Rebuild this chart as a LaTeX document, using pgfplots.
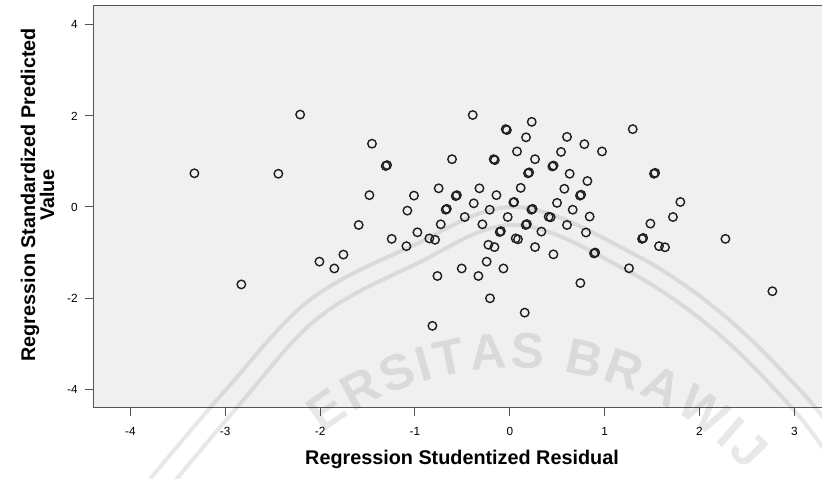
\documentclass[border=0pt]{standalone}
\usepackage{fontspec}
\setmainfont{Liberation Sans}
\usepackage{pgfplots}
\pgfplotsset{compat=1.18}
\usetikzlibrary{decorations.text}
\definecolor{bgc}{RGB}{240,240,240}
\definecolor{axc}{RGB}{85,85,85}
\definecolor{mkc}{RGB}{30,30,30}
\begin{document}
\begin{tikzpicture}[x=1pt,y=1pt]
\fill[white] (0,0) rectangle (822,479);
\begin{axis}[
  at={(93pt,71pt)}, anchor=south west,
  scale only axis, width=738pt, height=402pt,
  xmin=-4.394, xmax=3.386, ymin=-4.414, ymax=4.414,
  xtick={-4,-3,-2,-1,0,1,2,3}, ytick={-4,-2,0,2,4},
  axis background/.style={fill=bgc},
  axis line style={axc, line width=1pt},
  tick style={axc, line width=1pt},
  tick align=outside, major tick length=8.5pt,
  xtick pos=bottom, ytick pos=left,
  /pgf/number format/assume math mode=true,
  ticklabel style={font=\fontsize{11.8}{14}\selectfont, text=black, inner sep=0pt},
  xticklabel style={anchor=north},
  yticklabel style={anchor=east},
  xticklabel shift=10.5pt, yticklabel shift=6.7pt,
  xlabel={Regression Studentized Residual},
  ylabel={Regression Standardized Predicted\\Value},
  label style={font=\fontsize{19.8}{19}\selectfont\bfseries, text=black},
  xlabel style={at={(axis description cs:0.5,-0.1405)}, anchor=base},
  ylabel style={at={(axis description cs:-0.0752,0.530)}, anchor=center, align=center},
]
\addplot[only marks, mkc, mark=o, mark size=4.25pt, line width=1.4pt] table {
x y
-3.325 0.74
-2.44 0.73
-2.21 2.03
-2.83 -1.70
-2.007 -1.20
-1.85 -1.35
-1.754 -1.045
-1.593 -0.395
-1.453 1.39
-1.48 0.26
-1.308 0.90
-1.294 0.92
-1.245 -0.70
-1.09 -0.86
-1.08 -0.08
-1.01 0.25
-0.974 -0.556
-0.848 -0.69
-0.788 -0.72
-0.75 0.41
-0.728 -0.38
-0.763 -1.515
-0.816 -2.61
-0.676 -0.06
-0.664 -0.04
-0.609 1.05
-0.57 0.24
-0.558 0.26
-0.507 -1.35
-0.475 -0.22
-0.391 2.02
-0.38 0.08
-0.331 -1.515
-0.32 0.41
-0.289 -0.38
-0.244 -1.20
-0.226 -0.83
-0.212 -0.06
-0.209 -2.005
-0.17 1.05
-0.158 1.03
-0.162 -0.88
-0.141 0.26
-0.106 -0.55
-0.094 -0.53
-0.067 -1.35
-0.043 1.71
-0.031 1.69
-0.022 -0.22
0.038 0.10
0.046 0.11
0.062 -0.69
0.086 -0.71
0.076 1.22
0.115 0.42
0.157 -2.32
0.168 -0.395
0.180 -0.375
0.171 1.53
0.192 0.74
0.204 0.76
0.228 -0.06
0.240 -0.04
0.231 1.87
0.266 1.05
0.266 -0.88
0.333 -0.54
0.41 -0.215
0.43 -0.225
0.449 0.89
0.461 0.91
0.46 -1.04
0.498 0.09
0.54 1.21
0.575 0.40
0.603 1.54
0.603 -0.395
0.631 0.73
0.663 -0.06
0.74 0.25
0.752 0.27
0.744 -1.67
0.786 1.38
0.803 -0.56
0.818 0.57
0.842 -0.21
0.888 -1.02
0.900 -1.00
0.972 1.22
1.257 -1.346
1.296 1.71
1.394 -0.70
1.406 -0.68
1.482 -0.365
1.52 0.73
1.532 0.75
1.573 -0.86
1.636 -0.885
1.72 -0.22
1.798 0.11
2.273 -0.70
2.768 -1.85
};
\end{axis}
% faint watermark of the source document
\begin{scope}[opacity=0.09]
\draw[line width=4pt, black] plot[smooth, tension=0.6] coordinates {(150,0) (230,94) (310,179) (410,232) (515,272) (630,227) (720,167) (800,89) (840,39)};
\draw[line width=4pt, black, yshift=-9pt] plot[smooth, tension=0.6] coordinates {(165,-5) (240,84) (318,170) (414,223) (515,263) (626,218) (714,158) (792,80) (830,30)};
\path[decorate, decoration={text along path, text align=fit to path,
  text={|\fontsize{50}{50}\selectfont\bfseries|ERSITAS BRAWIJ}}]
  (515,-201) ++(128:312) arc[start angle=128, end angle=42, radius=312];
\end{scope}
\pgfresetboundingbox
\useasboundingbox (0,0) rectangle (822,479);
\end{tikzpicture}
\end{document}
